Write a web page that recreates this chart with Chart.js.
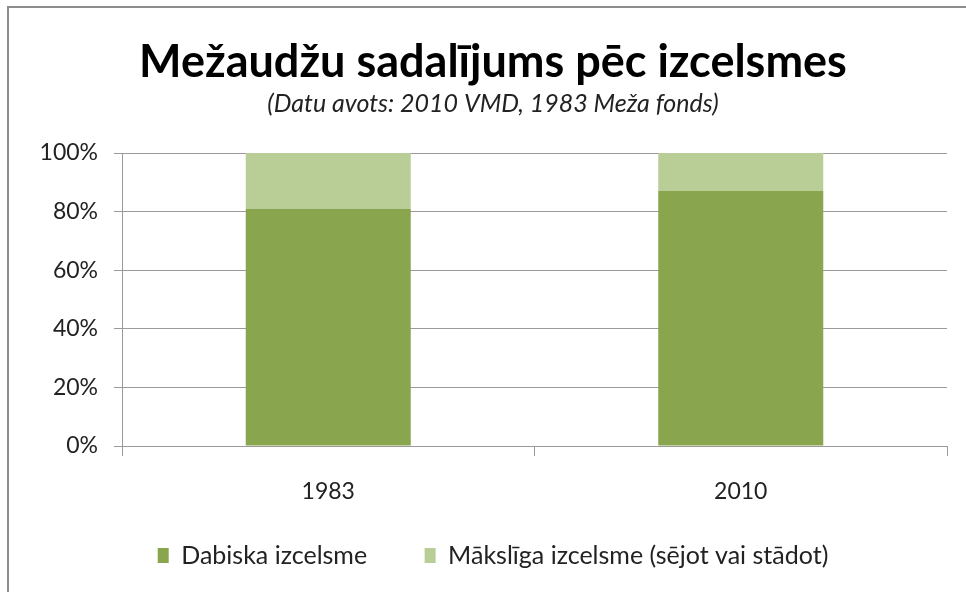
<!DOCTYPE html>
<html>
<head>
<meta charset="utf-8">
<script src="https://cdn.jsdelivr.net/npm/chart.js@4.4.1/dist/chart.umd.min.js"></script>
<style>
  html, body { margin: 0; padding: 0; background: #fff; }
  #wrap { position: relative; width: 966px; height: 592px; overflow: hidden; }
  #frame { position: absolute; left: 7px; top: 6px; width: 1000px; height: 700px;
           border-top: 2px solid #8c8c8c; border-left: 2px solid #8c8c8c; }
  canvas { position: absolute; left: 0; top: 0; }
</style>
</head>
<body>
<div id="wrap">
  <div id="frame"></div>
  <canvas id="chart" width="966" height="592"></canvas>
</div>
<script>
// data
const years = ['1983', '2010']
const natural = [81, 87]      // Dabiska izcelsme, %
const artificial = [19, 13]   // Mākslīga izcelsme, %
const seriesNames = ['Dabiska izcelsme', 'Mākslīga izcelsme (sējot vai stādot)']
const titleText = 'Mežaudžu sadalījums pēc izcelsmes'
const subtitleText = '(Datu avots: 2010 VMD, 1983 Meža fonds)'

const FONT = "Lato, 'Open Sans', sans-serif"
const gridColor = '#9a9a9a'
const textColor = '#222'

const ctx = document.getElementById('chart')
const chart = new Chart(ctx, {
  type: 'bar',
  data: {
    labels: years,
    datasets: [{
      label: seriesNames[0],
      data: natural,
      backgroundColor: '#89a54e',
      categoryPercentage: 0.4,
      barPercentage: 1.0
    }, {
      label: seriesNames[1],
      data: artificial,
      backgroundColor: '#b9cd96',
      categoryPercentage: 0.4,
      barPercentage: 1.0
    }]
  },
  options: {
    responsive: false,
    animation: false,
    // the original chart is wider than the visible crop, so everything centres a bit right
    layout: { padding: { left: 39, right: 19, top: 0, bottom: 14 } },
    scales: {
      x: {
        stacked: true,
        grid: { display: true, drawOnChartArea: false, drawTicks: true, tickLength: 10, color: gridColor, offset: true },
        border: { display: true, color: gridColor, width: 1 },
        ticks: { color: textColor, font: { family: FONT, size: 23 }, padding: 22 },
        afterFit: s => { s.height = 77 }
      },
      y: {
        stacked: true,
        min: 0,
        max: 100,
        ticks: { stepSize: 20, color: textColor, font: { family: FONT, size: 23 }, padding: 16,
                 callback: v => v + '%' },
        grid: { color: gridColor, tickLength: 8, lineWidth: 1 },
        border: { display: true, color: gridColor, width: 1 },
        afterFit: s => { s.width = 83 }
      }
    },
    plugins: {
      title: {
        display: true,
        text: titleText,
        color: '#000',
        font: { family: FONT, size: 45, weight: 'bold' },
        padding: { top: 35, bottom: 0 }
      },
      subtitle: {
        display: true,
        text: subtitleText,
        color: textColor,
        font: { family: FONT, size: 25, style: 'italic' },
        padding: { top: 0, bottom: 34 }
      },
      legend: {
        position: 'bottom',
        labels: {
          color: textColor,
          font: { family: FONT, size: 25 },
          boxWidth: 11,
          boxHeight: 15,
          padding: 20,
          // wider gap between the two entries without making the legend taller
          generateLabels: c => {
            const items = Chart.defaults.plugins.legend.labels.generateLabels(c)
            items.forEach((it, i) => { if (i < items.length - 1) it.text += '\u2002\u2002\u2002' })
            return items
          }
        }
      },
      tooltip: { enabled: false }
    }
  }
})
</script>
</body>
</html>
